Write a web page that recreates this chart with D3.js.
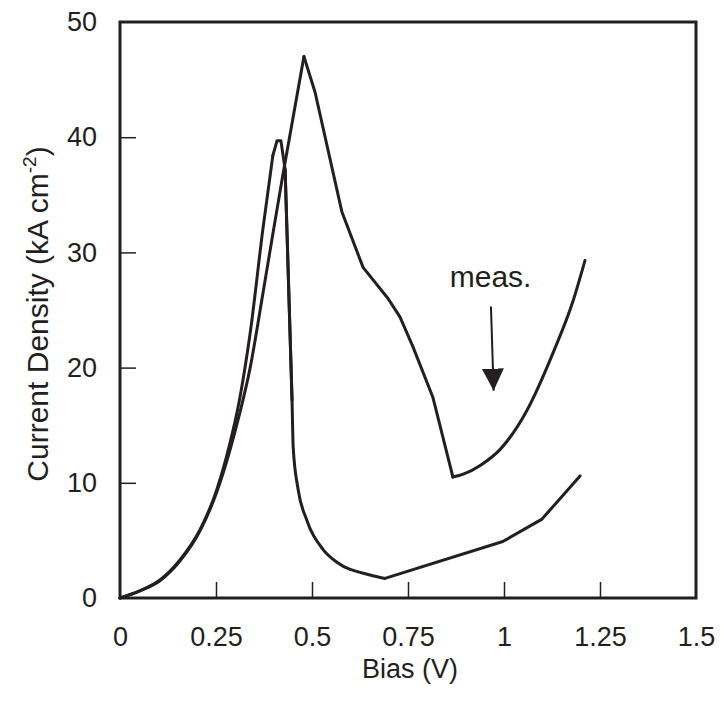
<!DOCTYPE html>
<html>
<head>
<meta charset="utf-8">
<script src="https://cdn.jsdelivr.net/npm/d3@7"></script>
<style>
  html, body { margin: 0; padding: 0; background: #fff; }
  svg { display: block; }
  text { font-family: "Liberation Sans", Arial, Helvetica, sans-serif; fill: #231f20; }
</style>
</head>
<body>
<svg id="chart" width="722" height="702"></svg>
<script>
// ---- Data ----
const xTicks = [0, 0.25, 0.5, 0.75, 1, 1.25, 1.5];
const xTickLabels = ["0", "0.25", "0.5", "0.75", "1", "1.25", "1.5"];
const yTicks = [0, 10, 20, 30, 40, 50];
const yTickLabels = ["0", "10", "20", "30", "40", "50"];

// Curve with sharp drop (peak ~0.41 V)
const calcBias = [0, 0.05, 0.104, 0.156, 0.208, 0.252, 0.286, 0.31, 0.339, 0.372, 0.398, 0.409, 0.419, 0.43, 0.448, 0.451, 0.464, 0.486, 0.529, 0.565, 0.651, 0.69, 0.997, 1.099, 1.198];
const calcJ    = [0, 0.6, 1.56, 3.3, 5.9, 9.4, 13.4, 17.0, 23.0, 32.0, 38.4, 39.7, 39.7, 37.2, 17.2, 13.1, 9.4, 6.8, 4.2, 3.1, 2.0, 1.7, 4.9, 6.85, 10.6];
// index ranges [start, end, smooth?]
const calcSegments = [[0, 10, true], [10, 14, false], [13, 21, true], [21, 24, false]];

// Measured curve (peak ~0.48 V)
const measBias = [0, 0.05, 0.104, 0.156, 0.208, 0.252, 0.286, 0.31, 0.339, 0.37, 0.399, 0.425, 0.479, 0.508, 0.578, 0.633, 0.698, 0.729, 0.763, 0.815, 0.867, 0.894, 0.94, 0.99, 1.06, 1.128, 1.18, 1.211];
const measJ    = [0, 0.6, 1.5, 3.2, 5.8, 9.2, 12.8, 15.8, 20.0, 26.0, 31.8, 36.9, 47.0, 43.9, 33.5, 28.7, 26.0, 24.4, 21.8, 17.4, 10.5, 10.75, 11.55, 12.9, 16.3, 21.3, 25.8, 29.3];
const measSegments = [[0, 12, true], [12, 20, false], [20, 27, true]];

// Annotation
const annotText = "meas.";
const annotTextPos = [0.965, 27.0];
const annotArrowFrom = [0.966, 25.3];
const annotArrowTo = [0.973, 18.0];

// ---- Layout ----
const svg = d3.select("#chart");
const margin = { left: 120, right: 26, top: 22, bottom: 104 };
const W = 722, H = 702;
const x = d3.scaleLinear().domain([0, 1.5]).range([margin.left, W - margin.right]);
const y = d3.scaleLinear().domain([0, 50]).range([H - margin.bottom, margin.top]);
const ink = "#231f20";

// axes
const xAxis = d3.axisBottom(x).tickValues(xTicks).tickFormat((d, i) => xTickLabels[i]).tickSizeInner(-16).tickSizeOuter(0).tickPadding(29);
const yAxis = d3.axisLeft(y).tickValues(yTicks).tickFormat((d, i) => yTickLabels[i]).tickSizeInner(-16).tickSizeOuter(0).tickPadding(23);

const gx = svg.append("g").attr("transform", `translate(0,${y(0)})`).call(xAxis);
const gy = svg.append("g").attr("transform", `translate(${x(0)},0)`).call(yAxis);
[gx, gy].forEach(g => {
  g.select(".domain").remove();
  g.selectAll(".tick line").attr("stroke", ink).attr("stroke-width", 1.5);
  g.selectAll(".tick text").attr("font-size", 27).attr("fill", ink)
    .style("font-family", '"Liberation Sans", Arial, sans-serif');
});
gx.selectAll(".tick").filter(d => d === 0 || d === 1.5).select("line").remove();
gy.selectAll(".tick").filter(d => d === 0 || d === 50).select("line").remove();

// frame
svg.append("rect")
  .attr("x", x(0)).attr("y", y(50))
  .attr("width", x(1.5) - x(0)).attr("height", y(0) - y(50))
  .attr("fill", "none").attr("stroke", ink).attr("stroke-width", 3);

// curves
const smoothLine = d3.line().x(d => x(d[0])).y(d => y(d[1])).curve(d3.curveMonotoneX);
const straightLine = d3.line().x(d => x(d[0])).y(d => y(d[1])).curve(d3.curveLinear);
function drawSeries(xs, ys, segments) {
  const data = xs.map((v, i) => [v, ys[i]]);
  const g = svg.append("g");
  segments.forEach(([s, e, smooth]) => {
    g.append("path").datum(data.slice(s, e + 1))
      .attr("d", smooth ? smoothLine : straightLine)
      .attr("fill", "none").attr("stroke", ink).attr("stroke-width", 3)
      .attr("stroke-linejoin", "round").attr("stroke-linecap", "round");
  });
}
drawSeries(calcBias, calcJ, calcSegments);
drawSeries(measBias, measJ, measSegments);

// annotation
svg.append("text").attr("x", x(annotTextPos[0])).attr("y", y(annotTextPos[1]))
  .attr("text-anchor", "middle").attr("font-size", 30).text(annotText);
svg.append("defs").append("marker")
  .attr("id", "arrow").attr("viewBox", "0 0 10 10").attr("refX", 10).attr("refY", 5)
  .attr("markerWidth", 22).attr("markerHeight", 25).attr("markerUnits", "userSpaceOnUse")
  .attr("orient", "auto")
  .append("path").attr("d", "M0,0 L10,5 L0,10 Z").attr("fill", ink);
svg.append("line")
  .attr("x1", x(annotArrowFrom[0])).attr("y1", y(annotArrowFrom[1]))
  .attr("x2", x(annotArrowTo[0])).attr("y2", y(annotArrowTo[1]))
  .attr("stroke", ink).attr("stroke-width", 2)
  .attr("marker-end", "url(#arrow)");

// axis titles
svg.append("text").attr("x", (x(0) + x(1.5)) / 2 + 2).attr("y", 678)
  .attr("text-anchor", "middle").attr("font-size", 27).text("Bias (V)");
const yt = svg.append("text")
  .attr("transform", `translate(48,${(y(0) + y(50)) / 2 + 4}) rotate(-90)`)
  .attr("text-anchor", "middle").attr("font-size", 30);
yt.append("tspan").text("Current Density (kA cm");
yt.append("tspan").attr("font-size", 19).attr("dy", -12).text("-2");
yt.append("tspan").attr("dy", 12).text(")");
</script>
</body>
</html>
